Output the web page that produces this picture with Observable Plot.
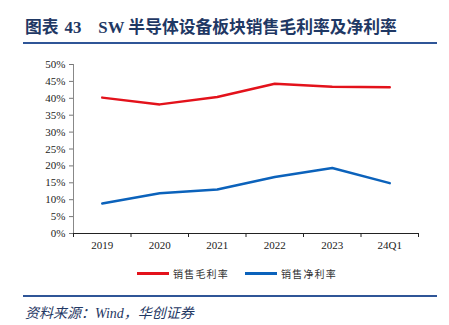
<!DOCTYPE html>
<html>
<head>
<meta charset="utf-8">
<script src="https://cdn.jsdelivr.net/npm/d3@7"></script>
<script src="https://cdn.jsdelivr.net/npm/@observablehq/plot@0.6"></script>
<style>
  html, body { margin:0; padding:0; background:#fff; }
  body { width:449px; height:325px; position:relative; overflow:hidden; font-family:"Liberation Serif","Noto Sans CJK SC",serif; }
  #title { position:absolute; left:25px; top:14px; font-size:16.8px; font-weight:bold; color:#1f3864; white-space:nowrap; }
  #title .num { margin-left:6px; margin-right:17px; }
  #tline { position:absolute; left:23px; top:42px; width:414px; height:2px; background:#2f5597; }
  #chart { position:absolute; left:0; top:50px; }
  #legend { position:absolute; top:265px; left:0; width:449px; height:16px; font-size:10px; letter-spacing:1.2px; color:#333; font-family:"Noto Sans CJK SC",sans-serif; }
  .lg { position:absolute; top:0; display:flex; align-items:center; height:16px; }
  .lg i { display:inline-block; width:32px; height:3px; margin-right:4px; }
  #bline { position:absolute; left:23px; top:295px; width:414px; height:2px; background:#2f5597; }
  #source { position:absolute; left:25px; top:302px; font-size:14px; font-style:italic; color:#1f3864; white-space:nowrap; }
</style>
</head>
<body>
<div id="title">图表<span class="num">43</span>SW 半导体设备板块销售毛利率及净利率</div>
<div id="tline"></div>
<div id="chart"></div>
<div id="legend"></div>
<div id="bline"></div>
<div id="source">资料来源：Wind，华创证券</div>
<script>
const categories = ["2019", "2020", "2021", "2022", "2023", "24Q1"];
const grossMargin = [40.2, 38.2, 40.4, 44.3, 43.4, 43.3];
const netMargin = [8.9, 11.9, 13.0, 16.7, 19.4, 14.9];
const yTicks = [0, 5, 10, 15, 20, 25, 30, 35, 40, 45, 50];
const seriesNames = ["销售毛利率", "销售净利率"];
const seriesColors = ["#e3121b", "#0b62bb"];

const rows = categories.map((c, i) => ({ i, c, gross: grossMargin[i], net: netMargin[i] }));
const n = categories.length;
const xDomain = [-0.5, n - 0.5];

const chart = Plot.plot({
  width: 449,
  height: 205,
  marginTop: 14,
  marginBottom: 22,
  marginLeft: 73,
  marginRight: 31,
  style: { fontFamily: "Liberation Serif, serif", fontSize: "11px", color: "#222", background: "transparent" },
  x: { type: "linear", domain: xDomain, axis: null },
  y: { domain: [0, 50], axis: null },
  marks: [
    Plot.axisY({ ticks: yTicks, tickFormat: d => d + "%", tickSize: 4, tickPadding: 4, fontSize: 11, stroke: "#777", label: null }),
    Plot.ruleX([xDomain[0]], { stroke: "#888", strokeWidth: 1 }),
    Plot.axisX({ ticks: d3.range(-0.5, n), tickFormat: () => "", tickSize: 4, stroke: "#222", label: null }),
    Plot.axisX({ ticks: d3.range(n), tickFormat: i => categories[i], tickSize: 0, tickPadding: 8, fontSize: 11, label: null }),
    Plot.ruleY([0], { stroke: "#222", strokeWidth: 1.2 }),
    Plot.lineY(rows, { x: "i", y: "gross", stroke: seriesColors[0], strokeWidth: 2.5 }),
    Plot.lineY(rows, { x: "i", y: "net", stroke: seriesColors[1], strokeWidth: 2.5 })
  ]
});
document.getElementById("chart").appendChild(chart);

const legend = document.getElementById("legend");
const lgLeft = [137, 245];
seriesNames.forEach((name, k) => {
  const d = document.createElement("div");
  d.className = "lg";
  d.style.left = lgLeft[k] + "px";
  d.innerHTML = `<i style="background:${seriesColors[k]}"></i><span>${name}</span>`;
  legend.appendChild(d);
});
</script>
</body>
</html>
